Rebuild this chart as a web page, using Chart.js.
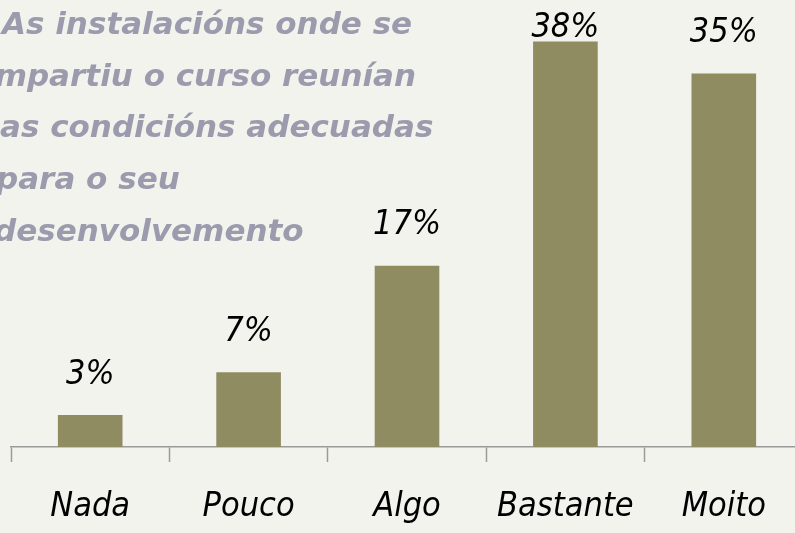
<!DOCTYPE html>
<html>
<head>
<meta charset="utf-8">
<script src="https://cdn.jsdelivr.net/npm/chart.js@4.4.0/dist/chart.umd.min.js"></script>
<style>
  html, body { margin: 0; padding: 0; background: #f3f3ee; overflow: hidden; }
  #wrap { width: 803px; height: 533px; position: relative; }
</style>
</head>
<body>
<div id="wrap"><canvas id="chart"></canvas></div>
<script>
const categories = ["Nada", "Pouco", "Algo", "Bastante", "Moito"];
const values = [3, 7, 17, 38, 35];
const titleLines = [
    "As instalacións onde se",
    "impartiu o curso reunían",
    "as condicións adecuadas",
    "para o seu",
    "desenvolvemento"
];
const titleOffsets = [2, -16, 0, -4, -6];

const handFont = "'Liberation Sans Narrow', 'DejaVu Sans Condensed', sans-serif";

const titlePlugin = {
    id: "titleText",
    beforeDatasetsDraw(chart) {
        const ctx = chart.ctx;
        ctx.save();
        ctx.fillStyle = "#9b9bad";
        ctx.font = "italic 900 31px 'DejaVu Sans', sans-serif";
        ctx.textAlign = "left";
        ctx.textBaseline = "alphabetic";
        titleLines.forEach((line, i) => {
            ctx.fillText(line, titleOffsets[i], 34 + 51.7 * i);
        });
        ctx.restore();
    }
};

const valueLabels = {
    id: "valueLabels",
    afterDatasetsDraw(chart) {
        const ctx = chart.ctx;
        const meta = chart.getDatasetMeta(0);
        ctx.save();
        ctx.fillStyle = "#000";
        ctx.font = "italic 34px " + handFont;
        ctx.textAlign = "center";
        ctx.textBaseline = "bottom";
        meta.data.forEach((bar, i) => {
            const y = Math.max(bar.y - 23, 45);
            ctx.fillText(values[i] + "%", bar.x, y);
        });
        ctx.restore();
    }
};

new Chart(document.getElementById("chart"), {
    type: "bar",
    data: {
        labels: categories,
        datasets: [{
            data: values,
            backgroundColor: "#908c62",
            categoryPercentage: 0.8,
            barPercentage: 0.51
        }]
    },
    options: {
        responsive: true,
        maintainAspectRatio: false,
        animation: false,
        layout: { padding: { left: 11, right: 0, top: 0, bottom: 0 } },
        plugins: {
            legend: { display: false },
            tooltip: { enabled: false }
        },
        scales: {
            x: {
                afterFit: (scale) => { scale.height = 86; },
                border: { color: "#9a9a9a", width: 1.5 },
                grid: {
                    offset: true,
                    drawOnChartArea: false,
                    drawTicks: true,
                    tickLength: 15,
                    tickWidth: 1.5,
                    color: "#9a9a9a"
                },
                ticks: {
                    color: "#000",
                    padding: 25,
                    maxRotation: 0,
                    autoSkip: false,
                    font: { family: handFont, size: 34, style: "italic" }
                }
            },
            y: {
                display: false,
                min: 0,
                max: 41.9
            }
        }
    },
    plugins: [titlePlugin, valueLabels]
});
</script>
</body>
</html>
